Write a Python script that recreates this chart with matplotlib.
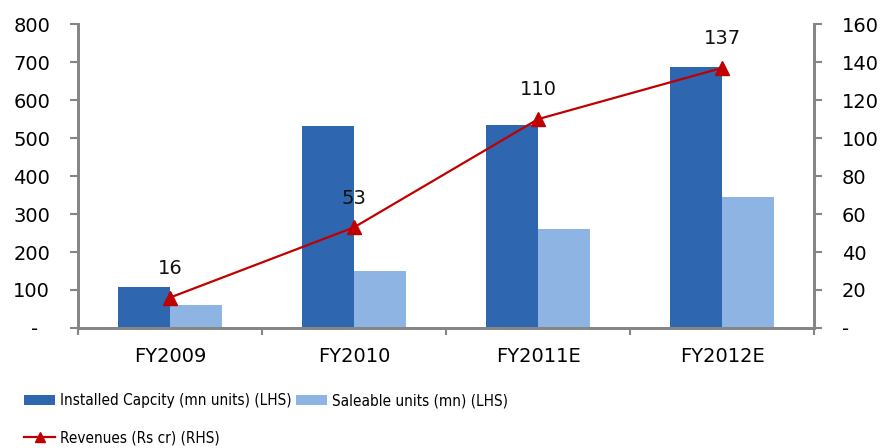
import numpy as np
import matplotlib.pyplot as plt

years = ['FY2009', 'FY2010', 'FY2011E', 'FY2012E']
capacity = [108, 533, 534, 686]     # mn units, LHS
saleable = [60, 150, 260, 345]      # mn units, LHS
revenues = [16, 53, 110, 137]       # Rs cr, RHS

dark = '#2E66B0'
light = '#8EB4E3'
red = '#C00000'
grey = '#868686'

plt.rcParams['font.family'] = ['DejaVu Sans']

fig = plt.figure(figsize=(8.86, 4.48), dpi=100)
ax = fig.add_axes([0.088, 0.268, 0.831, 0.678])
ax2 = ax.twinx()

x = np.arange(len(years))
w = 0.283
b1 = ax.bar(x - w / 2, capacity, w, color=dark, label='Installed Capcity (mn units) (LHS)', zorder=2)
b2 = ax.bar(x + w / 2, saleable, w, color=light, label='Saleable units (mn) (LHS)', zorder=2)

ln, = ax2.plot(x, revenues, color=red, lw=1.6, marker='^', markersize=10,
               label='Revenues (Rs cr) (RHS)', zorder=3)
for xi, v in zip(x, revenues):
    ax2.annotate(str(v), (xi, v), xytext=(0, 21), textcoords='offset points',
                 ha='center', va='center', fontsize=14, color='#111111')

ax.set_xlim(-0.5, 3.5)
ax.set_ylim(0, 800)
ax2.set_ylim(0, 160)

ax.set_yticks(range(0, 801, 100))
ax.set_yticklabels(['-  '] + [str(v) for v in range(100, 801, 100)])
ax2.set_yticks(range(0, 161, 20))
ax2.set_yticklabels(['-'] + [str(v) for v in range(20, 161, 20)])

ax.set_xticks(x)
ax.set_xticklabels(years)
ax.set_xticks(np.arange(-0.5, 3.6, 1), minor=True)
ax.tick_params(axis='x', which='major', length=0, pad=14, labelsize=14)
ax.tick_params(axis='x', which='minor', length=5, width=1.5, color=grey)
ax.tick_params(axis='y', length=6, width=1.5, color=grey, pad=14, labelsize=14)
ax2.tick_params(axis='y', length=6, width=1.5, color=grey, pad=14, labelsize=14)

for a in (ax, ax2):
    a.spines['top'].set_visible(False)
    for s in ('left', 'right', 'bottom'):
        a.spines[s].set_color(grey)
        a.spines[s].set_linewidth(2)

# column-major fill: capacity / revenues in the first column, saleable in the second
handles = [b1, ln, b2]
fig.legend(handles, [h.get_label() for h in handles], loc='lower left',
           bbox_to_anchor=(0.012, -0.025), ncol=2, frameon=False,
           prop={'family': 'DejaVu Sans', 'stretch': 'condensed', 'size': 11},
           handlelength=2.0, columnspacing=0.3, handletextpad=0.35, labelspacing=1.45,
           markerscale=0.75)

fig.savefig('out.png', dpi=100)
